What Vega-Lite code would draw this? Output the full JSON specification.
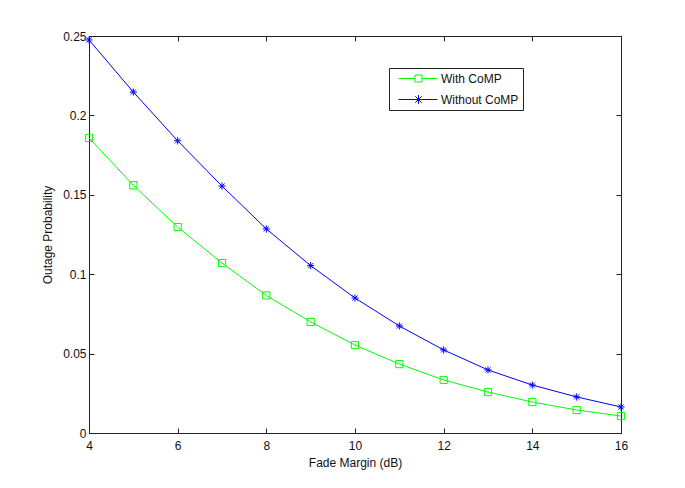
{
  "$schema": "https://vega.github.io/schema/vega-lite/v6.json",
  "width": 532,
  "height": 397,
  "autosize": {"type": "none"},
  "padding": {"left": 89, "top": 36, "right": 64, "bottom": 55},
  "background": "white",
  "config": {
    "view": {"stroke": "#222", "strokeWidth": 1},
    "font": "Liberation Sans",
    "axis": {"grid": false, "domainColor": "#222", "tickColor": "#222", "labelColor": "#111", "titleColor": "#111", "labelFontSize": 12, "titleFontSize": 12, "titleFontWeight": "normal", "tickSize": -5, "labelFlush": false, "labelFont": "Liberation Sans", "titleFont": "Liberation Sans"}
  },
  "data": {"values": [
    {"x": 4, "p": 0.1858, "s": "With CoMP"},
    {"x": 5, "p": 0.156, "s": "With CoMP"},
    {"x": 6, "p": 0.1297, "s": "With CoMP"},
    {"x": 7, "p": 0.107, "s": "With CoMP"},
    {"x": 8, "p": 0.0866, "s": "With CoMP"},
    {"x": 9, "p": 0.0699, "s": "With CoMP"},
    {"x": 10, "p": 0.0554, "s": "With CoMP"},
    {"x": 11, "p": 0.0434, "s": "With CoMP"},
    {"x": 12, "p": 0.0334, "s": "With CoMP"},
    {"x": 13, "p": 0.0258, "s": "With CoMP"},
    {"x": 14, "p": 0.0195, "s": "With CoMP"},
    {"x": 15, "p": 0.0145, "s": "With CoMP"},
    {"x": 16, "p": 0.0107, "s": "With CoMP"},
    {"x": 4, "p": 0.2475, "s": "Without CoMP"},
    {"x": 5, "p": 0.2147, "s": "Without CoMP"},
    {"x": 6, "p": 0.184, "s": "Without CoMP"},
    {"x": 7, "p": 0.1555, "s": "Without CoMP"},
    {"x": 8, "p": 0.1285, "s": "Without CoMP"},
    {"x": 9, "p": 0.1054, "s": "Without CoMP"},
    {"x": 10, "p": 0.085, "s": "Without CoMP"},
    {"x": 11, "p": 0.0674, "s": "Without CoMP"},
    {"x": 12, "p": 0.0523, "s": "Without CoMP"},
    {"x": 13, "p": 0.0397, "s": "Without CoMP"},
    {"x": 14, "p": 0.0302, "s": "Without CoMP"},
    {"x": 15, "p": 0.0227, "s": "Without CoMP"},
    {"x": 16, "p": 0.0164, "s": "Without CoMP"}
  ]},
  "layer": [
    {
      "mark": {"type": "line", "strokeWidth": 1},
      "encoding": {
        "x": {"field": "x", "type": "quantitative", "scale": {"domain": [4, 16], "nice": false, "zero": false}, "axis": {"values": [4, 6, 8, 10, 12, 14, 16], "title": "Fade Margin (dB)", "labelPadding": 12, "titlePadding": 6}},
        "y": {"field": "p", "type": "quantitative", "scale": {"domain": [0, 0.25], "nice": false}, "axis": {"values": [0, 0.05, 0.1, 0.15, 0.2, 0.25], "format": ".2~f", "title": "Outage Probability", "labelPadding": 8, "titlePadding": 8}},
        "color": {"field": "s", "type": "nominal", "scale": {"domain": ["With CoMP", "Without CoMP"], "range": ["#00ff00", "#0000ff"]}, "legend": {
          "title": null, "orient": "none", "legendX": 300, "legendY": 32,
          "strokeColor": "#222", "fillColor": "white", "padding": 4, "rowPadding": 8,
          "symbolSize": 144, "symbolStrokeWidth": 1, "symbolFillColor": "transparent", "labelFontSize": 12, "labelOffset": 35, "labelColor": "#111",
          "symbolType": {"expr": "datum.value === 'With CoMP' ? 'M-0.17,0H2.58M3.75,0H6.33M2.58,-0.58H3.75V0.58H2.58Z' : 'M-0.17,0H6.33M3.17,-0.75V0.75M2.64,-0.53L3.7,0.53M2.64,0.53L3.7,-0.53'"}
        }}
      }
    },
    {
      "mark": {"type": "point", "filled": false, "strokeWidth": 1, "opacity": 1},
      "encoding": {
        "x": {"field": "x", "type": "quantitative", "axis": {"orient": "top", "values": [4, 6, 8, 10, 12, 14, 16], "labels": false, "title": null}},
        "y": {"field": "p", "type": "quantitative", "axis": {"orient": "right", "values": [0, 0.05, 0.1, 0.15, 0.2, 0.25], "labels": false, "title": null}},
        "color": {"field": "s", "type": "nominal"},
        "shape": {"field": "s", "type": "nominal", "scale": {"domain": ["With CoMP", "Without CoMP"], "range": ["M-1,-1H1V1H-1Z", "M-1,0H1M0,-1V1M-0.7,-0.7L0.7,0.7M-0.7,0.7L0.7,-0.7"]}, "legend": null},
        "size": {"value": 52}
      }
    }
  ],
  "resolve": {"axis": {"x": "independent", "y": "independent"}, "scale": {"shape": "independent"}, "legend": {"shape": "independent"}}
}
